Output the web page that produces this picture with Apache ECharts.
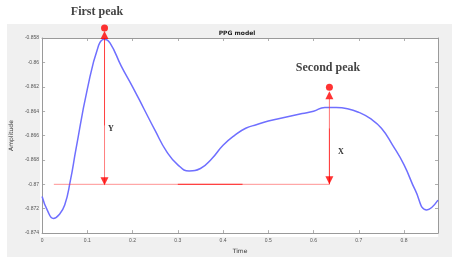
<!DOCTYPE html>
<html><head><meta charset="utf-8">
<script src="https://cdn.jsdelivr.net/npm/echarts@6/dist/echarts.min.js"></script>
<style>html,body{margin:0;padding:0;background:#fff}#c{width:455px;height:259px}</style>
</head><body><div id="c"></div>
<script>
// PPG curve (time, amplitude)
const curveTime = [0.000,0.0125,0.025,0.0375,0.050,0.0625,0.075,0.100,0.125,0.1375,0.150,0.175,0.200,0.225,0.250,0.275,0.300,0.325,0.350,0.375,0.400,0.425,0.450,0.475,0.500,0.525,0.550,0.575,0.600,0.625,0.650,0.675,0.700,0.725,0.750,0.775,0.800,0.825,0.850,0.875];
const curveAmp  = [-0.8710,-0.8722,-0.8728,-0.8725,-0.8717,-0.8697,-0.8671,-0.8622,-0.8586,-0.8581,-0.8584,-0.8603,-0.8620,-0.8638,-0.8656,-0.8673,-0.8684,-0.8689,-0.8687,-0.8679,-0.8668,-0.8660,-0.8654,-0.8651,-0.8648,-0.8646,-0.8644,-0.8642,-0.8640,-0.8637,-0.8637,-0.8638,-0.8641,-0.8646,-0.8654,-0.8668,-0.8684,-0.8705,-0.8721,-0.8713];
// annotations
const peakTime = [0.138, 0.635];
const peakDot = [-0.85717, -0.86204];
const arrowUp = [-0.85776, -0.86270];
const lineTop = [-0.8580, -0.86298];
const arrowDown = [-0.86974, -0.86966];
const baseLevel = -0.870;
const baseStart = 0.026;
const baseDarkSeg = [0.300, 0.443];
const yTicks = ['-0.874','-0.872','-0.87','-0.868','-0.866','-0.864','-0.862','-0.86','-0.858'];

const chart = echarts.init(document.getElementById('c'));
const boxColor = '#9a9a9a';
const tickStyle = {show:true, inside:true, length:3, lineStyle:{color:boxColor, width:0.8}};
const data = curveTime.map((t,i)=>[t,curveAmp[i]]);
const red = '#ff0000';
const lineSer = (pts, color, w) => ({type:'line', data:pts, symbol:'none', clip:false, silent:true, z:5,
  lineStyle:{color:color, width:w||1}});
const series = [
  {type:'line', data:data, smooth:0.5, symbol:'none', clip:true, lineStyle:{color:'#6f6fff', width:1.5}, z:3},
  lineSer([[baseStart,baseLevel],[peakTime[1],baseLevel]], 'rgba(255,60,60,0.55)'),
  lineSer([[baseDarkSeg[0],baseLevel],[baseDarkSeg[1],baseLevel]], 'rgba(255,40,40,0.8)', 1.2),
  lineSer([[peakTime[0],lineTop[0]],[peakTime[0],-0.8652]], 'rgba(255,30,30,0.85)'),
  lineSer([[peakTime[0],-0.8652],[peakTime[0],baseLevel]], 'rgba(255,60,60,0.65)'),
  lineSer([[peakTime[1],lineTop[1]],[peakTime[1],-0.8654]], 'rgba(255,60,60,0.7)'),
  lineSer([[peakTime[1],-0.8654],[peakTime[1],baseLevel]], 'rgba(255,20,20,0.9)'),
  {type:'scatter', data:peakTime.map((t,i)=>[t,peakDot[i]]), symbol:'circle', symbolSize:7, clip:false, z:6, itemStyle:{color:red}},
  {type:'scatter', data:peakTime.map((t,i)=>[t,arrowUp[i]]), symbol:'triangle', symbolSize:[8,8], clip:false, z:6, itemStyle:{color:red}},
  {type:'scatter', data:peakTime.map((t,i)=>[t,arrowDown[i]]), symbol:'triangle', symbolRotate:180, symbolSize:[8,8], clip:false, z:6, itemStyle:{color:red}}
];
chart.setOption({
  animation:false,
  backgroundColor:'#ffffff',
  graphic:[
    {type:'rect', shape:{x:7,y:24,width:445,height:233}, style:{fill:'#f0f0f0'}, z:-10, silent:true},
    {type:'rect', shape:{x:40,y:38,width:398,height:199}, style:{fill:'#ffffff'}, z:-9, silent:true},
    {type:'text', x:97, y:12, style:{text:'First peak', font:'bold 12px "Liberation Serif", serif', fill:'#444', align:'center', verticalAlign:'middle'}, z:20},
    {type:'text', x:328, y:68, style:{text:'Second peak', font:'bold 12px "Liberation Serif", serif', fill:'#444', align:'center', verticalAlign:'middle'}, z:20},
    {type:'text', x:111, y:129, style:{text:'Y', font:'bold 8px "Liberation Serif", serif', fill:'#333', align:'center', verticalAlign:'middle'}, z:20},
    {type:'text', x:341, y:152, style:{text:'X', font:'bold 8px "Liberation Serif", serif', fill:'#333', align:'center', verticalAlign:'middle'}, z:20},
    {type:'text', x:237, y:33, style:{text:'PPG model', font:'bold 6px "DejaVu Sans", sans-serif', fill:'#222', align:'center', verticalAlign:'middle'}, z:20}
  ],
  grid:{left:40, top:38, width:398, height:199, show:false},
  xAxis:[
    {type:'value', min:0, max:0.875, interval:0.1, position:'bottom',
     name:'Time', nameLocation:'middle', nameGap:11, nameTextStyle:{fontSize:6, color:'#333', fontFamily:'DejaVu Sans'},
     axisLine:{show:true, onZero:false, lineStyle:{color:boxColor, width:1}},
     axisTick:tickStyle, splitLine:{show:false},
     axisLabel:{fontSize:5, color:'#555', margin:5, showMaxLabel:false, formatter:v=>String(+v.toFixed(1))}},
    {type:'value', min:0, max:0.875, interval:0.1, position:'top',
     axisLine:{show:true, onZero:false, lineStyle:{color:boxColor, width:1}},
     axisTick:tickStyle, splitLine:{show:false}, axisLabel:{show:false}}
  ],
  yAxis:[
    {type:'value', min:-0.874, max:-0.858, interval:0.002, position:'left',
     name:'Amplitude', nameLocation:'middle', nameGap:13, nameRotate:90, nameTextStyle:{fontSize:6, color:'#333', fontFamily:'DejaVu Sans'},
     axisLine:{show:true, onZero:false, lineStyle:{color:boxColor, width:1}},
     axisTick:tickStyle, splitLine:{show:false},
     axisLabel:{fontSize:5, color:'#555', margin:3, formatter:(v)=>{const i=Math.round((v+0.874)/0.002); return yTicks[i]!==undefined?yTicks[i]:'';}}},
    {type:'value', min:-0.874, max:-0.858, interval:0.002, position:'right',
     axisLine:{show:true, onZero:false, lineStyle:{color:boxColor, width:1}},
     axisTick:tickStyle, splitLine:{show:false}, axisLabel:{show:false}}
  ],
  series:series
});
</script></body></html>
